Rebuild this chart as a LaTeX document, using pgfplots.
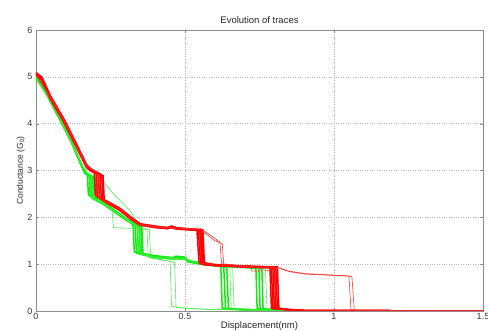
\documentclass[border=0pt]{standalone}
\usepackage{fontspec}
\setmainfont{Liberation Sans}
\usepackage{pgfplots}
\pgfplotsset{compat=1.18}
\definecolor{mred}{rgb}{1,0,0}
\definecolor{mgreen}{rgb}{0.05,0.92,0.05}
\definecolor{axgray}{rgb}{0.55,0.55,0.55}
\definecolor{txtgray}{rgb}{0.22,0.22,0.22}
\begin{document}
\begin{tikzpicture}
\begin{axis}[name=ax,
  width=447pt, height=281pt, scale only axis,
  xmin=0, xmax=1.5, ymin=0, ymax=6,
  xtick={0,0.5,1,1.5}, ytick={0,1,2,3,4,5,6},
  xticklabels={0,0.5,1,1.5},
  grid=major, grid style={dotted, gray!55, line width=0.5pt},
  axis line style={axgray}, tick style={axgray},
  tick align=inside, major tick length=3pt,
  ticklabel style={font=\fontsize{9}{10}\selectfont, text=txtgray},
  /pgf/number format/assume math mode=true,
  title={Evolution of traces},
  title style={font=\fontsize{9.5}{11}\selectfont, text=black!85, yshift=-3pt},
  xlabel={Displacement(nm)},
  ylabel={Conductance (G\textsubscript{0})},
  xlabel style={font=\fontsize{9.5}{11}\selectfont, text=black!85, yshift=5pt},
  ylabel style={font=\fontsize{8.5}{10}\selectfont, text=black!85, yshift=-4pt},
  xticklabel style={yshift=1pt},
  clip=true,
]
% ---------------- green bundle ----------------
\addplot[mgreen, line width=1.5pt] coordinates {(0,4.99) (0.02,4.87) (0.047,4.52) (0.087,4.04) (0.12,3.62) (0.148,3.2) (0.165,2.97) (0.172,2.93) (0.176,2.48) (0.22,2.35) (0.26,2.17) (0.3,1.99) (0.326,1.84) (0.33,1.26) (0.4,1.18) (0.46,1.14) (0.47,1.17) (0.5,1.15) (0.51,1.08) (0.56,1.02) (0.62,0.97) (0.625,0.06) (0.7,0.03) (0.8,0.01) (0.9,0)};
\addplot[mgreen, line width=1.5pt] coordinates {(0,4.97) (0.02,4.85) (0.047,4.5) (0.087,4.02) (0.12,3.6) (0.148,3.18) (0.165,2.95) (0.178,2.9) (0.182,2.45) (0.22,2.33) (0.26,2.15) (0.3,1.97) (0.333,1.82) (0.337,1.24) (0.4,1.16) (0.46,1.12) (0.47,1.15) (0.5,1.13) (0.51,1.06) (0.56,1.0) (0.63,0.95) (0.636,0.05) (0.7,0.03) (0.8,0.01) (0.9,0)};
\addplot[mgreen, line width=1.5pt] coordinates {(0,4.95) (0.02,4.83) (0.047,4.48) (0.087,4.0) (0.12,3.58) (0.148,3.16) (0.165,2.93) (0.184,2.87) (0.188,2.42) (0.22,2.31) (0.26,2.13) (0.3,1.95) (0.34,1.8) (0.344,1.22) (0.4,1.15) (0.46,1.11) (0.47,1.14) (0.5,1.12) (0.51,1.05) (0.56,0.99) (0.64,0.94) (0.646,0.04) (0.7,0.02) (0.8,0.01) (0.9,0)};
\addplot[mgreen, line width=1.5pt] coordinates {(0,4.98) (0.02,4.86) (0.047,4.51) (0.087,4.03) (0.12,3.61) (0.148,3.19) (0.165,2.96) (0.19,2.86) (0.194,2.4) (0.22,2.32) (0.26,2.16) (0.3,1.98) (0.346,1.81) (0.35,1.23) (0.4,1.17) (0.46,1.13) (0.47,1.16) (0.5,1.14) (0.51,1.07) (0.56,1.01) (0.62,0.97) (0.7,0.94) (0.738,0.92) (0.742,0.05) (0.8,0.02) (0.9,0)};
\addplot[mgreen, line width=1.5pt] coordinates {(0,4.96) (0.02,4.84) (0.047,4.49) (0.087,4.01) (0.12,3.59) (0.148,3.17) (0.165,2.94) (0.196,2.83) (0.2,2.37) (0.22,2.31) (0.26,2.14) (0.3,1.96) (0.352,1.8) (0.356,1.21) (0.4,1.15) (0.46,1.12) (0.47,1.15) (0.5,1.13) (0.51,1.06) (0.56,1.0) (0.62,0.96) (0.7,0.93) (0.748,0.91) (0.752,0.04) (0.8,0.02) (0.9,0)};
\addplot[mgreen, line width=1.5pt] coordinates {(0,4.97) (0.02,4.85) (0.047,4.5) (0.087,4.02) (0.12,3.6) (0.148,3.18) (0.165,2.95) (0.2,2.83) (0.204,2.35) (0.22,2.3) (0.26,2.15) (0.3,1.97) (0.355,1.81) (0.359,1.2) (0.4,1.16) (0.46,1.12) (0.47,1.15) (0.5,1.13) (0.51,1.06) (0.56,1.0) (0.62,0.96) (0.7,0.93) (0.758,0.91) (0.762,0.05) (0.8,0.02) (0.9,0)};
% ---------------- green outliers ----------------
\addplot[mgreen!80, line width=0.55pt] coordinates {(0,4.97) (0.047,4.5) (0.087,4.02) (0.12,3.6) (0.148,3.18) (0.17,2.95) (0.2,2.88) (0.225,2.77) (0.26,2.5) (0.315,2.15) (0.34,1.9) (0.35,1.8) (0.354,1.2) (0.4,1.12) (0.45,1.06) (0.455,0.1) (0.5,0.06) (0.6,0.03) (0.8,0.01) (0.9,0)};
\addplot[mgreen!80, line width=0.55pt] coordinates {(0,4.96) (0.047,4.49) (0.087,4.01) (0.12,3.59) (0.148,3.17) (0.18,2.9) (0.184,2.4) (0.22,2.3) (0.255,2.18) (0.26,1.78) (0.3,1.77) (0.33,1.76) (0.38,1.74) (0.385,1.13) (0.45,1.06) (0.465,1.04) (0.47,0.08) (0.55,0.04) (0.7,0.02) (0.85,0)};
\addplot[mgreen!80, line width=0.55pt] coordinates {(0,4.97) (0.047,4.5) (0.087,4.02) (0.12,3.6) (0.148,3.18) (0.17,2.95) (0.186,2.9) (0.19,2.42) (0.22,2.32) (0.26,2.14) (0.3,1.97) (0.34,1.8) (0.372,1.75) (0.377,1.14) (0.46,1.1) (0.5,1.1) (0.56,1.0) (0.65,0.95) (0.655,0.06) (0.75,0.03) (0.85,0)};
\addplot[mgreen!80, line width=0.55pt] coordinates {(0,4.96) (0.047,4.49) (0.087,4.01) (0.12,3.59) (0.148,3.17) (0.17,2.94) (0.18,2.9) (0.184,2.44) (0.22,2.33) (0.26,2.15) (0.3,1.97) (0.34,1.8) (0.345,1.22) (0.4,1.15) (0.5,1.1) (0.56,1.0) (0.66,0.95) (0.665,0.05) (0.8,0.02) (0.9,0)};
\addplot[mgreen!80, line width=0.55pt] coordinates {(0,4.97) (0.047,4.5) (0.087,4.02) (0.12,3.6) (0.148,3.18) (0.17,2.95) (0.19,2.88) (0.194,2.4) (0.22,2.32) (0.26,2.15) (0.3,1.97) (0.345,1.81) (0.35,1.22) (0.4,1.16) (0.5,1.12) (0.56,1.0) (0.62,0.96) (0.7,0.93) (0.77,0.9) (0.775,0.05) (0.85,0.02) (0.95,0)};
% ---------------- red bundle ----------------
\addplot[mred, line width=1.5pt] coordinates {(0,5.09) (0.02,4.99) (0.047,4.61) (0.097,4.06) (0.137,3.55) (0.17,3.12) (0.185,3.03) (0.195,3.0) (0.199,2.47) (0.24,2.34) (0.28,2.2) (0.32,2.0) (0.35,1.86) (0.4,1.81) (0.44,1.78) (0.455,1.81) (0.47,1.78) (0.5,1.76) (0.54,1.74) (0.547,1.03) (0.6,0.99) (0.7,0.96) (0.785,0.94) (0.79,0.06) (0.85,0.03) (0.9,0.01) (1.5,0)};
\addplot[mred, line width=1.5pt] coordinates {(0,5.06) (0.02,4.96) (0.047,4.58) (0.097,4.03) (0.137,3.52) (0.17,3.09) (0.185,3.01) (0.202,2.97) (0.206,2.44) (0.24,2.32) (0.28,2.18) (0.32,1.98) (0.35,1.85) (0.4,1.8) (0.44,1.77) (0.455,1.8) (0.47,1.77) (0.5,1.75) (0.545,1.73) (0.552,1.01) (0.6,0.98) (0.7,0.95) (0.79,0.93) (0.795,0.05) (0.85,0.03) (0.9,0.01) (1.5,0)};
\addplot[mred, line width=1.5pt] coordinates {(0,5.04) (0.02,4.94) (0.047,4.55) (0.097,4.0) (0.137,3.49) (0.17,3.07) (0.185,2.99) (0.209,2.94) (0.213,2.41) (0.24,2.3) (0.28,2.16) (0.32,1.96) (0.35,1.84) (0.4,1.79) (0.44,1.76) (0.455,1.79) (0.47,1.76) (0.5,1.74) (0.55,1.72) (0.556,1.0) (0.6,0.97) (0.7,0.94) (0.795,0.92) (0.8,0.05) (0.85,0.02) (0.9,0.01) (1.5,0)};
\addplot[mred, line width=1.5pt] coordinates {(0,5.07) (0.02,4.97) (0.047,4.59) (0.097,4.04) (0.137,3.53) (0.17,3.1) (0.185,3.02) (0.215,2.93) (0.219,2.39) (0.24,2.31) (0.28,2.17) (0.32,1.97) (0.35,1.85) (0.4,1.8) (0.44,1.77) (0.455,1.8) (0.47,1.77) (0.5,1.75) (0.553,1.72) (0.559,1.02) (0.6,0.98) (0.7,0.95) (0.8,0.93) (0.805,0.06) (0.85,0.03) (0.9,0.01) (1.5,0)};
\addplot[mred, line width=1.5pt] coordinates {(0,5.03) (0.02,4.93) (0.047,4.54) (0.097,3.99) (0.137,3.48) (0.17,3.06) (0.185,2.98) (0.221,2.9) (0.225,2.37) (0.24,2.3) (0.28,2.15) (0.32,1.95) (0.35,1.83) (0.4,1.78) (0.44,1.76) (0.455,1.78) (0.47,1.75) (0.5,1.74) (0.557,1.71) (0.562,0.99) (0.6,0.97) (0.7,0.94) (0.805,0.92) (0.81,0.05) (0.85,0.02) (0.9,0.01) (1.5,0)};
\addplot[mred, line width=1.5pt] coordinates {(0,5.08) (0.02,4.98) (0.047,4.6) (0.097,4.05) (0.137,3.54) (0.17,3.11) (0.185,3.02) (0.225,2.89) (0.229,2.36) (0.24,2.33) (0.28,2.19) (0.32,1.99) (0.35,1.86) (0.4,1.81) (0.44,1.78) (0.455,1.81) (0.47,1.78) (0.5,1.76) (0.56,1.73) (0.565,1.03) (0.6,0.99) (0.7,0.96) (0.81,0.94) (0.815,0.06) (0.85,0.03) (0.9,0.01) (1.5,0)};
% ---------------- red outliers ----------------
\addplot[mred!85, line width=0.55pt] coordinates {(0,5.06) (0.047,4.58) (0.097,4.03) (0.137,3.52) (0.17,3.09) (0.2,2.98) (0.204,2.43) (0.24,2.32) (0.28,2.18) (0.32,1.98) (0.35,1.85) (0.4,1.8) (0.5,1.76) (0.55,1.77) (0.59,1.6) (0.617,1.47) (0.623,1.01) (0.7,0.96) (0.72,0.95) (0.81,0.93) (0.84,0.86) (0.9,0.8) (1.05,0.75) (1.057,0.03) (1.1,0) (1.5,0)};
\addplot[mred!85, line width=0.55pt] coordinates {(0,5.05) (0.047,4.57) (0.097,4.02) (0.137,3.51) (0.17,3.08) (0.21,2.95) (0.214,2.4) (0.24,2.31) (0.28,2.17) (0.32,1.97) (0.35,1.84) (0.4,1.79) (0.5,1.75) (0.55,1.75) (0.6,1.5) (0.625,1.44) (0.63,0.99) (0.72,0.94) (0.82,0.92) (0.85,0.84) (0.9,0.79) (1.06,0.74) (1.068,0.02) (1.1,0) (1.5,0)};
\addplot[mred!85, line width=0.55pt] coordinates {(0,5.06) (0.047,4.58) (0.097,4.03) (0.137,3.52) (0.17,3.09) (0.205,2.96) (0.209,2.42) (0.24,2.31) (0.28,2.17) (0.32,1.97) (0.35,1.85) (0.4,1.8) (0.5,1.75) (0.548,1.73) (0.555,1.02) (0.6,0.98) (0.72,0.93) (0.726,0.85) (0.78,0.86) (0.8,0.9) (0.807,0.05) (0.85,0.02) (1.5,0)};
\end{axis}
\pgfresetboundingbox
\path ([xshift=-36pt,yshift=-20pt]ax.south west) rectangle ([xshift=5pt,yshift=30pt]ax.north east);
\end{tikzpicture}
\end{document}
